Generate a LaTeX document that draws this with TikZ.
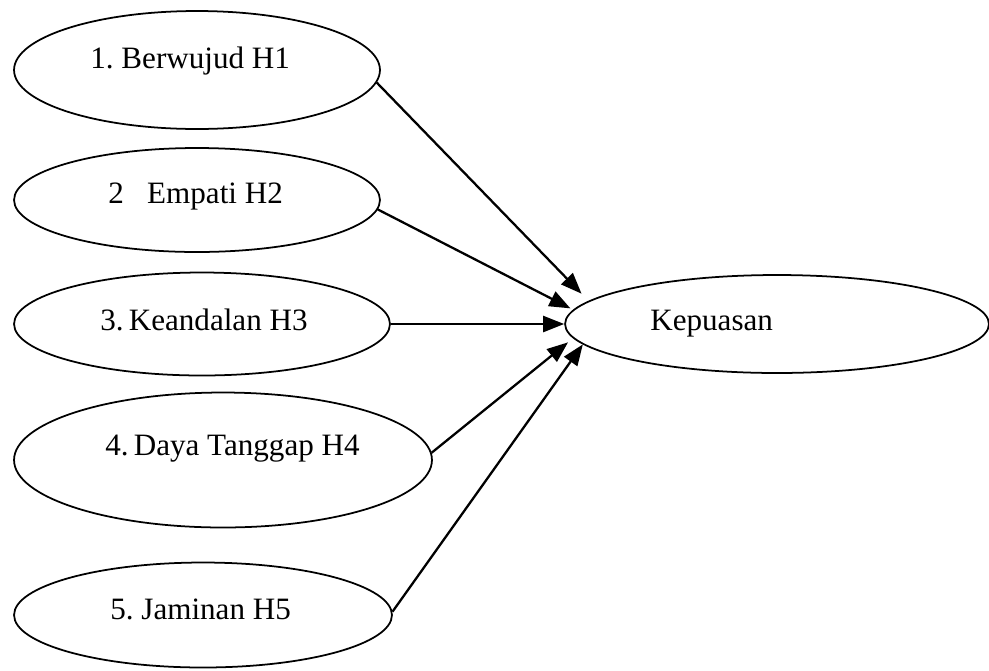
\documentclass[tikz,border=0pt]{standalone}
\usepackage{fontspec}
\setmainfont{Liberation Serif}
\frenchspacing
\usetikzlibrary{arrows.meta,shapes.geometric}

\begin{document}
\begin{tikzpicture}[
    x=0.02cm, y=-0.02cm,
    oval/.style={ellipse, draw=black, line width=1pt, inner sep=0pt},
    lbl/.style={anchor=base west, inner sep=0pt, font=\fontsize{17.7}{21}\selectfont},
    link/.style={draw=black, line width=1.3pt, -{Triangle[length=0.42cm, width=0.32cm]}},
  ]
  \useasboundingbox (0,0) rectangle (989,670);

  % the five dimensions on the left, the outcome on the right
  \node[oval, minimum width=7.32cm, minimum height=2.36cm] (berwujud) at (197,70)  {};
  \node[oval, minimum width=7.32cm, minimum height=2.08cm] (empati)   at (197,200) {};
  \node[oval, minimum width=7.52cm, minimum height=2.06cm] (andal)    at (202,324) {};
  \node[oval, minimum width=8.36cm, minimum height=2.70cm] (tanggap)  at (223,460) {};
  \node[oval, minimum width=7.56cm, minimum height=2.10cm] (jaminan)  at (203,615) {};
  \node[oval, minimum width=8.48cm, minimum height=1.96cm] (puas)     at (777,324) {};

  \node[lbl] (tBerwujud) at (90,68)   {1. Berwujud H1};
  \node[lbl] (tEmpati)   at (108,203) {2~~~Empati H2};
  \node[lbl] (tAndal)    at (100,330) {3.\,Keandalan H3};
  \node[lbl] (tTanggap)  at (105,455) {4.\,Daya Tanggap H4};
  \node[lbl] (tJaminan)  at (110,619) {5. Jaminan H5};
  \node[lbl] (tPuas)     at (650,330) {Kepuasan};

  % paths H1..H5
  \draw[link, shorten >=0.2cm]  (berwujud.-4) -- (puas.173);
  \draw[link, shorten >=0.06cm] (empati.-3)   -- (puas.176);
  \draw[link]                   (andal.east)  -- (puas.west);
  \draw[link, shorten >=0.13cm] (tanggap.2)   -- (puas.184);
  \draw[link]                   (jaminan.1.5) -- (puas.186);

\end{tikzpicture}
\end{document}
